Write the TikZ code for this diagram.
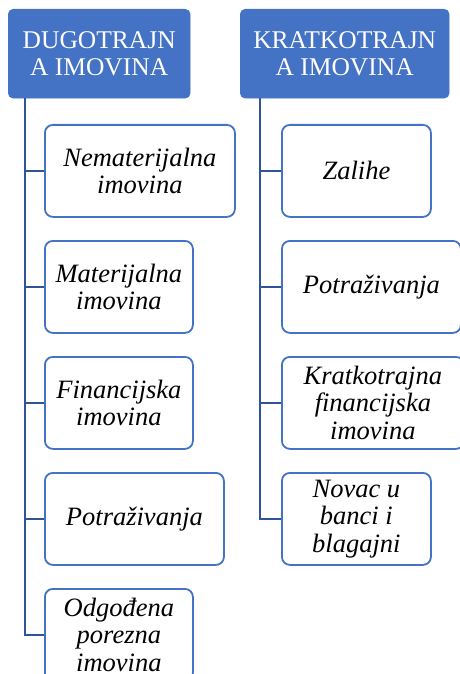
\documentclass[tikz,border=0pt]{standalone}
\usepackage{fontspec}
\setmainfont{Liberation Serif}
\definecolor{headblue}{HTML}{4472C4}
\definecolor{linkblue}{HTML}{2F5597}
\tikzset{
  headbox/.style={draw=headblue, fill=headblue, rounded corners=5pt, text=white, align=center,
    anchor=north west, minimum height=89pt, inner sep=0pt, font=\fontsize{25.5}{27}\selectfont},
  itembox/.style={draw=headblue, line width=1.8pt, fill=white, rounded corners=8pt, align=center,
    anchor=north west, minimum height=92pt, inner sep=0pt, font=\itshape\fontsize{26.5}{27.5}\selectfont},
  link/.style={draw=linkblue, line width=1.6pt}
}
\begin{document}
\begin{tikzpicture}[x=1pt, y=-1pt]
    \useasboundingbox (0,0) rectangle (460,674);
    \node[headbox, minimum width=182pt] (dugo) at (8,9) {DUGOTRAJN\\A IMOVINA};
    \node[headbox, minimum width=209pt] (krat) at (240,9) {KRATKOTRAJN\\A IMOVINA};
    \coordinate (dtrunk) at ([xshift=17pt]dugo.south west);
    \coordinate (ktrunk) at ([xshift=20pt]krat.south west);
    % left column
    \node[itembox, minimum width=190pt] (nemat) at (44,124) {Nematerijalna\\imovina};
    \node[itembox, minimum width=148pt] (mat) at (44,240) {Materijalna\\imovina};
    \node[itembox, minimum width=148pt] (fin) at (44,356) {Financijska\\imovina};
    \node[itembox, minimum width=179pt] (potd) at (44,472) {Potraživanja};
    \node[itembox, minimum width=148pt] (odg) at (44,588) {Odgođena\\porezna\\imovina};
    \foreach \n in {nemat, mat, fin, potd, odg}
      \draw[link] (dtrunk) |- (\n.west);
    % right column
    \node[itembox, minimum width=149pt] (zal) at (281,124) {Zalihe};
    \node[itembox, minimum width=179pt] (potk) at (281,240) {Potraživanja};
    \node[itembox, minimum width=182pt] (kfin) at (281,356) {Kratkotrajna\\financijska\\imovina};
    \node[itembox, minimum width=149pt] (nov) at (281,472) {Novac u\\banci i\\blagajni};
    \foreach \n in {zal, potk, kfin, nov}
      \draw[link] (ktrunk) |- (\n.west);
\end{tikzpicture}
\end{document}
